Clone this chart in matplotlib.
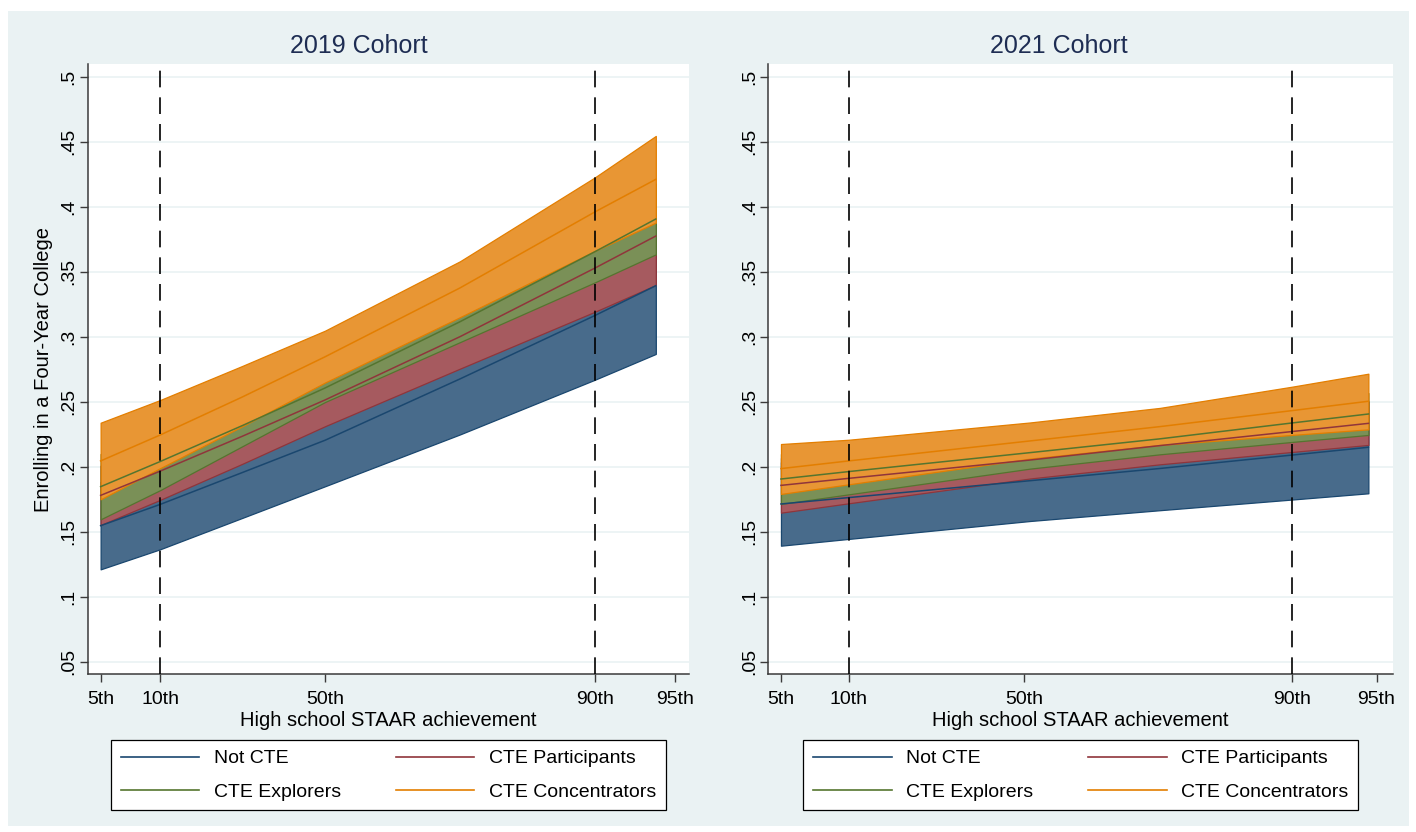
import matplotlib
matplotlib.use("Agg")
import matplotlib.pyplot as plt
from matplotlib.patches import Rectangle
from matplotlib.lines import Line2D

plt.rcParams['font.family'] = ['Liberation Sans', 'DejaVu Sans']

# ---- data -------------------------------------------------------------
GROUPS = ["Not CTE", "CTE Participants", "CTE Explorers", "CTE Concentrators"]
LEGEND_ORDER = ["Not CTE", "CTE Explorers", "CTE Participants", "CTE Concentrators"]

PCT_LABELS = ["5th", "10th", "50th", "90th", "95th"]
Y_TICKS = [0.05, 0.10, 0.15, 0.20, 0.25, 0.30, 0.35, 0.40, 0.45, 0.50]
Y_TICK_LABELS = [".05", ".1", ".15", ".2", ".25", ".3", ".35", ".4", ".45", ".5"]

# standardized STAAR score at each percentile
PCT_SCORE_2019 = [-1.645, -1.303, -0.360, 1.186, 1.645]
PCT_SCORE_2021 = [-1.645, -1.271, -0.302, 1.178, 1.645]

# evaluation points of the predicted margins
SCORE_2019 = [-1.645, -1.303, -0.835, -0.360, 0.413, 1.186, 1.534]
SCORE_2021 = [-1.645, -1.271, -0.268, 0.449, 1.178, 1.600]

MEAN_2019 = {
    "Not CTE":           [0.1546, 0.1710, 0.1954, 0.2203, 0.2675, 0.3163, 0.3392],
    "CTE Participants":  [0.1779, 0.1966, 0.2233, 0.2513, 0.3000, 0.3528, 0.3774],
    "CTE Explorers":     [0.1846, 0.2040, 0.2315, 0.2605, 0.3115, 0.3654, 0.3905],
    "CTE Concentrators": [0.2044, 0.2244, 0.2535, 0.2845, 0.3375, 0.3960, 0.4210],
}
LOWER_2019 = {
    "Not CTE":           [0.1210, 0.1365, 0.1605, 0.1849, 0.2248, 0.2669, 0.2867],
    "CTE Participants":  [0.1551, 0.1745, 0.2021, 0.2311, 0.2754, 0.3192, 0.3397],
    "CTE Explorers":     [0.1595, 0.1820, 0.2156, 0.2497, 0.2958, 0.3418, 0.3633],
    "CTE Concentrators": [0.1749, 0.1989, 0.2310, 0.2647, 0.3150, 0.3660, 0.3877],
}
UPPER_2019 = {
    "Not CTE":           [0.1882, 0.2055, 0.2303, 0.2557, 0.3100, 0.3657, 0.3917],
    "CTE Participants":  [0.2007, 0.2187, 0.2445, 0.2715, 0.3240, 0.3864, 0.4151],
    "CTE Explorers":     [0.2097, 0.2260, 0.2474, 0.2713, 0.3270, 0.3890, 0.4177],
    "CTE Concentrators": [0.2338, 0.2513, 0.2774, 0.3046, 0.3580, 0.4226, 0.4544],
}

MEAN_2021 = {
    "Not CTE":           [0.1713, 0.1762, 0.1892, 0.1986, 0.2089, 0.2149],
    "CTE Participants":  [0.1856, 0.1910, 0.2051, 0.2162, 0.2270, 0.2333],
    "CTE Explorers":     [0.1905, 0.1962, 0.2108, 0.2214, 0.2336, 0.2405],
    "CTE Concentrators": [0.1985, 0.2044, 0.2198, 0.2308, 0.2431, 0.2503],
}
LOWER_2021 = {
    "Not CTE":           [0.1392, 0.1444, 0.1582, 0.1665, 0.1747, 0.1795],
    "CTE Participants":  [0.1646, 0.1718, 0.1909, 0.2018, 0.2113, 0.2167],
    "CTE Explorers":     [0.1713, 0.1787, 0.1985, 0.2095, 0.2190, 0.2244],
    "CTE Concentrators": [0.1790, 0.1864, 0.2062, 0.2167, 0.2244, 0.2287],
}
UPPER_2021 = {
    "Not CTE":           [0.2034, 0.2080, 0.2202, 0.2307, 0.2431, 0.2503],
    "CTE Participants":  [0.2066, 0.2102, 0.2193, 0.2306, 0.2427, 0.2499],
    "CTE Explorers":     [0.2097, 0.2137, 0.2231, 0.2333, 0.2482, 0.2566],
    "CTE Concentrators": [0.2174, 0.2207, 0.2340, 0.2452, 0.2615, 0.2715],
}

# ---- style ------------------------------------------------------------
LINE_COLORS = {
    "Not CTE": "#1a476f",
    "CTE Participants": "#90353b",
    "CTE Explorers": "#55752f",
    "CTE Concentrators": "#e37e00",
}
FILL_COLORS = {
    "Not CTE": "#486b8b",
    "CTE Participants": "#a65a5f",
    "CTE Explorers": "#7a9057",
    "CTE Concentrators": "#e89634",
}
BG = "#eaf2f3"
GRID = "#eaf2f3"
AXIS = "#3a3a3a"
TITLE_COLOR = "#1e2d53"

W, H = 1416, 832
fig = plt.figure(figsize=(W / 100, H / 100), dpi=100)
fig.patch.set_facecolor("white")
fig.add_artist(Rectangle((8 / W, 1 - 826 / H), (1409 - 8) / W, (826 - 11) / H,
                         transform=fig.transFigure, facecolor=BG,
                         edgecolor="none", zorder=-10))


def draw_panel(rect, title, title_x, score, pct_score, mean, lower, upper,
               xlim, ylabel):
    ax = fig.add_axes(rect)
    ax.set_facecolor("white")
    for y in Y_TICKS:
        ax.axhline(y, color=GRID, lw=1.2, zorder=0)

    for i, g in enumerate(GROUPS):
        ax.fill_between(score, lower[g], upper[g], facecolor=FILL_COLORS[g],
                        edgecolor=LINE_COLORS[g], lw=0.9, zorder=2 + i)
    for g in GROUPS:
        ax.plot(score, mean[g], color=LINE_COLORS[g], lw=1.1, zorder=10)

    for p in (pct_score[1], pct_score[3]):
        ax.axvline(p, color="black", lw=1.2, dashes=(10, 6), zorder=11)

    ax.set_xlim(*xlim)
    ax.set_ylim(0.0405, 0.5095)
    ax.set_xticks(pct_score)
    ax.set_xticklabels(PCT_LABELS)
    ax.set_yticks(Y_TICKS)
    ax.set_yticklabels(Y_TICK_LABELS, rotation=90, va="center")
    ax.tick_params(axis="both", colors=AXIS, labelcolor="black", labelsize=14,
                   length=6, width=1.0)
    ax.tick_params(axis="x", pad=6.5)
    ax.tick_params(axis="y", pad=1.5)
    for s in ("top", "right"):
        ax.spines[s].set_visible(False)
    for s in ("left", "bottom"):
        ax.spines[s].set_color(AXIS)
        ax.spines[s].set_linewidth(1.1)

    fig.text(title_x / W, 1 - 46 / H, title, fontsize=18, color=TITLE_COLOR,
             ha="center", va="center")
    ax.set_xlabel("High school STAAR achievement", fontsize=14.5, labelpad=2)
    if ylabel:
        ax.set_ylabel(ylabel, fontsize=14.5, labelpad=5)

    handles = [Line2D([], [], color=LINE_COLORS[g], lw=1.2) for g in LEGEND_ORDER]
    leg = ax.legend(handles, LEGEND_ORDER, ncol=2, loc="upper center",
                    bbox_to_anchor=(0.5, -0.1083), borderaxespad=0,
                    frameon=True, fancybox=False, edgecolor="black",
                    framealpha=1, fontsize=14, handlelength=4.05,
                    handletextpad=0.75, columnspacing=2.8, borderpad=0.5,
                    labelspacing=0.8)
    leg.get_frame().set_linewidth(0.9)
    return ax


draw_panel([87.7 / W, 1 - 674 / H, (689 - 87.7) / W, (674 - 64.3) / H],
           "2019 Cohort", 359, SCORE_2019, PCT_SCORE_2019,
           MEAN_2019, LOWER_2019, UPPER_2019, (-1.719, 1.724),
           "Enrolling in a Four-Year College")
draw_panel([768.3 / W, 1 - 674 / H, (1393 - 768.3) / W, (674 - 64.3) / H],
           "2021 Cohort", 1059, SCORE_2021, PCT_SCORE_2021,
           MEAN_2021, LOWER_2021, UPPER_2021, (-1.715, 1.736), None)

fig.savefig("out.png", dpi=100, facecolor=fig.get_facecolor())
